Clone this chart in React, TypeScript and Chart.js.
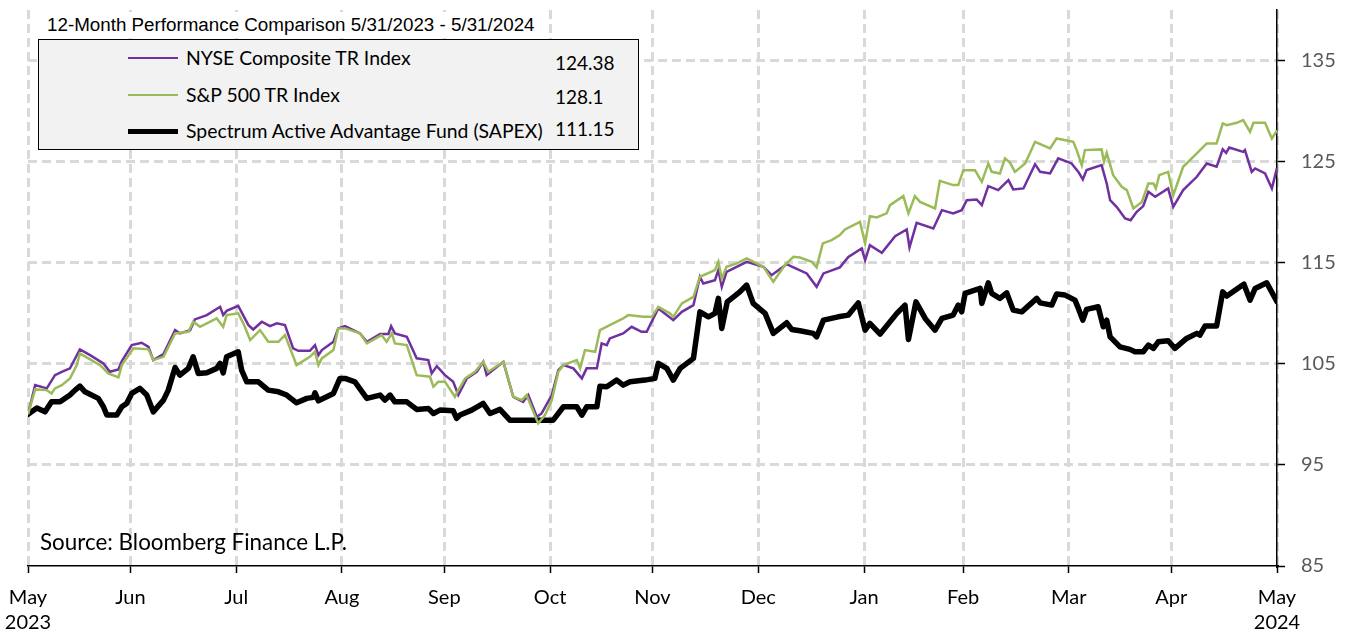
import React, { useEffect, useRef } from "react";
import { Chart, registerables } from "chart.js";

Chart.register(...registerables);

// x positions are days since 5/31/2023; ticks sit at month ends
const tickDays = [0, 30, 61, 92, 122, 153, 183, 214, 245, 274, 305, 335, 366];
const tickLabels: (string | string[])[] = [["May", "2023"], "Jun", "Jul", "Aug", "Sep", "Oct", "Nov", "Dec", "Jan", "Feb", "Mar", "Apr", ["May", "2024"]];
const yTicks = [85, 95, 105, 115, 125, 135];

const seriesNames = ["NYSE Composite TR Index", "S&P 500 TR Index", "Spectrum Active Advantage Fund (SAPEX)"];
const finalValues = ["124.38", "128.1", "111.15"];

const sapexDays = [0, 2.6, 5.0, 6.9, 9.4, 12.3, 13.8, 15.2, 16.7, 20.6, 22.1, 23.1, 26.0, 27.5, 28.9, 30.4, 32.8, 34.8, 36.7, 39.7, 41.1, 43.1, 44.5, 47.0, 48.4, 49.9, 52.4, 55.3, 56.3, 57.2, 58.2, 61.6, 62.6, 64.1, 67.5, 70.4, 73.4, 75.8, 78.7, 81.7, 83.6, 84.1, 85.1, 89.5, 91.4, 92.9, 95.8, 99.3, 103.2, 104.6, 106.1, 107.5, 111.0, 113.9, 117.3, 118.8, 120.7, 124.6, 125.6, 126.6, 130.0, 133.4, 135.4, 138.3, 141.2, 153.9, 156.9, 160.8, 162.3, 163.7, 166.7, 167.6, 169.6, 172.5, 174.4, 176.4, 180.8, 183.7, 184.7, 187.2, 189.1, 191.1, 195.0, 196.9, 199.4, 201.3, 202.3, 203.3, 204.9, 208.6, 210.6, 212.5, 216.0, 218.4, 222.3, 223.8, 226.2, 230.1, 231.1, 233.1, 237.4, 240.4, 243.3, 245.3, 246.7, 249.7, 254.6, 257.0, 258.0, 260.2, 262.9, 265.8, 267.8, 271.1, 272.6, 273.6, 274.6, 279.0, 279.5, 281.4, 282.4, 284.8, 286.8, 288.7, 291.2, 295.6, 296.6, 300.0, 301.4, 303.9, 306.8, 307.8, 309.1, 310.2, 313.6, 315.1, 316.1, 317.1, 320.0, 322.9, 324.4, 326.8, 328.3, 329.8, 331.2, 334.1, 336.1, 339.5, 342.5, 343.4, 344.9, 348.3, 350.1, 351.3, 355.2, 356.3, 358.1, 359.6, 363.0, 366];
const sapexValues = [100, 100.62, 100.25, 101.24, 101.24, 101.91, 102.40, 102.79, 102.23, 101.58, 100.75, 99.93, 99.93, 100.75, 101.08, 102.07, 102.57, 101.91, 100.25, 101.41, 102.40, 104.64, 103.88, 104.55, 105.69, 104.05, 104.11, 104.55, 105.04, 104.11, 105.69, 106.19, 104.38, 103.22, 103.22, 102.40, 102.23, 101.91, 101.14, 101.58, 101.68, 102.13, 101.34, 102.07, 103.56, 103.56, 103.22, 101.58, 101.91, 101.41, 101.91, 101.24, 101.24, 100.49, 100.59, 100.09, 100.42, 100.35, 99.60, 99.93, 100.42, 101.08, 100.09, 100.49, 99.43, 99.43, 100.75, 100.75, 99.93, 100.75, 100.75, 102.79, 102.73, 103.39, 102.89, 103.22, 103.39, 103.56, 105.04, 104.55, 103.39, 104.55, 105.54, 110.14, 109.65, 109.99, 111.47, 108.50, 111.13, 112.12, 112.79, 110.98, 109.99, 108.01, 109.06, 108.40, 108.27, 108.01, 107.67, 109.32, 109.65, 109.82, 111.03, 108.33, 109.00, 107.94, 109.99, 110.81, 107.41, 111.13, 109.49, 108.33, 109.49, 109.82, 110.81, 110.14, 111.96, 112.46, 110.98, 113.01, 111.96, 111.47, 112.02, 110.31, 110.14, 111.47, 111.03, 110.81, 111.90, 111.80, 111.30, 110.48, 109.32, 110.38, 110.64, 108.66, 109.32, 107.67, 106.68, 106.43, 106.19, 106.19, 106.85, 106.53, 107.18, 107.28, 106.53, 107.51, 108.01, 107.84, 108.73, 108.73, 112.12, 111.70, 112.62, 112.88, 111.30, 112.46, 113.01, 111.15];

const nyseDays = [0, 2.1, 5.5, 7.9, 9.9, 12.3, 13.3, 15.2, 18.2, 22.1, 24.0, 26.5, 27.5, 30.4, 33.3, 35.3, 36.7, 39.7, 43.1, 44.5, 47.5, 48.9, 52.4, 56.3, 57.2, 58.2, 61.6, 64.6, 66.0, 68.5, 70.9, 72.9, 75.3, 77.7, 79.2, 82.6, 84.1, 85.1, 86.1, 89.5, 90.9, 92.9, 97.3, 99.3, 103.2, 105.6, 106.4, 107.5, 111.0, 113.9, 117.3, 118.3, 119.8, 122.2, 124.6, 126.1, 128.6, 131.5, 133.4, 134.4, 139.3, 142.2, 145.1, 146.6, 149.1, 150.5, 153.5, 155.4, 156.9, 159.8, 162.3, 163.7, 166.7, 168.1, 169.6, 170.5, 174.4, 176.9, 179.8, 181.3, 184.7, 189.1, 191.6, 195.0, 196.9, 197.9, 201.3, 202.3, 203.3, 204.7, 210.6, 215.5, 217.9, 222.3, 224.3, 228.2, 231.1, 233.1, 237.9, 240.4, 244.3, 245.3, 246.7, 250.2, 254.1, 257.5, 258.3, 260.4, 265.3, 267.8, 271.1, 273.6, 275.1, 278.0, 279.5, 281.4, 284.3, 287.3, 288.7, 291.7, 295.1, 296.6, 299.5, 301.9, 305.8, 307.8, 309.1, 310.2, 314.6, 316.1, 317.1, 319.0, 321.5, 323.1, 324.9, 326.8, 328.3, 330.3, 334.1, 335.6, 338.5, 342.5, 345.4, 348.3, 350.1, 351.1, 352.0, 356.1, 356.6, 358.6, 359.6, 362.5, 364.5, 366];
const nyseValues = [100, 102.89, 102.57, 103.88, 104.21, 104.55, 105.20, 106.43, 105.86, 105.04, 104.21, 104.45, 105.27, 106.85, 107.08, 106.68, 105.37, 105.96, 108.33, 108.01, 108.33, 109.39, 109.82, 110.64, 109.82, 110.24, 110.74, 108.83, 108.40, 109.16, 108.73, 109.00, 108.83, 106.53, 106.29, 106.29, 106.85, 105.86, 106.36, 107.18, 108.50, 108.73, 108.01, 107.18, 107.94, 107.94, 108.73, 108.01, 107.67, 105.54, 105.37, 104.05, 104.77, 103.88, 103.22, 101.91, 103.56, 104.21, 105.20, 103.88, 105.20, 101.74, 101.24, 101.91, 99.76, 100.09, 101.91, 104.38, 104.87, 104.55, 103.56, 104.55, 104.55, 107.02, 106.85, 107.51, 108.01, 108.66, 108.17, 108.17, 110.48, 109.32, 110.14, 110.81, 113.61, 112.95, 113.28, 114.27, 112.62, 114.10, 115.09, 114.60, 113.77, 114.86, 114.54, 113.94, 112.62, 113.94, 114.54, 115.58, 116.42, 115.26, 116.74, 115.98, 117.63, 118.29, 116.51, 118.95, 118.39, 120.20, 119.88, 120.20, 121.19, 121.26, 120.70, 122.58, 122.18, 123.17, 122.25, 122.35, 124.75, 123.99, 123.83, 125.32, 124.82, 123.99, 123.24, 124.16, 124.65, 122.84, 121.19, 120.53, 119.38, 119.21, 120.04, 120.60, 122.01, 121.52, 122.35, 120.53, 122.18, 123.50, 124.82, 124.49, 126.21, 125.87, 126.40, 125.97, 126.14, 123.99, 124.33, 123.83, 122.35, 124.38];

const spxDays = [0, 2.1, 5.5, 6.9, 7.9, 9.9, 12.3, 14.3, 15.2, 18.2, 21.1, 22.1, 23.5, 26.5, 27.5, 30.9, 35.3, 36.7, 39.7, 43.1, 47.0, 48.4, 50.4, 55.3, 57.2, 58.2, 61.6, 63.1, 65.1, 68.0, 70.4, 73.4, 75.3, 78.7, 82.6, 84.1, 85.1, 86.1, 89.5, 90.9, 92.9, 97.3, 99.3, 103.6, 105.1, 106.6, 107.5, 111.0, 113.9, 117.8, 118.8, 120.2, 122.2, 125.1, 126.1, 128.1, 131.0, 133.4, 134.9, 139.3, 142.2, 144.7, 146.1, 149.5, 151.5, 153.5, 155.4, 156.9, 160.8, 161.8, 163.2, 166.2, 167.6, 171.5, 174.4, 175.9, 180.3, 182.8, 184.7, 188.1, 189.1, 191.6, 195.0, 196.9, 201.3, 202.3, 203.3, 204.7, 207.7, 210.6, 215.5, 218.4, 221.8, 224.3, 226.2, 229.7, 231.1, 232.9, 235.5, 237.9, 239.4, 243.8, 245.3, 246.7, 248.7, 251.6, 252.6, 256.5, 258.0, 259.9, 261.4, 265.8, 267.2, 271.1, 272.6, 274.1, 277.5, 279.5, 281.4, 282.4, 284.8, 286.3, 287.8, 289.2, 292.2, 295.1, 299.5, 301.4, 306.3, 307.3, 308.8, 309.7, 314.6, 315.3, 316.1, 318.0, 320.5, 322.0, 323.9, 326.4, 328.3, 329.8, 330.5, 331.5, 334.1, 335.6, 338.5, 342.5, 345.4, 348.3, 350.1, 351.3, 354.2, 356.1, 358.1, 359.1, 362.5, 364.5, 366];
const spxValues = [100, 102.47, 102.40, 102.07, 102.57, 102.89, 103.56, 104.87, 106.03, 105.44, 104.87, 104.55, 104.05, 103.66, 104.87, 106.53, 106.43, 105.37, 105.69, 108.01, 108.17, 109.16, 108.66, 109.49, 108.66, 109.82, 109.99, 109.00, 107.35, 108.33, 107.18, 107.18, 107.84, 104.87, 105.69, 106.19, 104.87, 105.54, 106.36, 108.50, 108.50, 108.01, 107.02, 107.84, 107.18, 108.01, 107.02, 106.85, 103.88, 103.72, 102.73, 103.22, 103.22, 101.74, 102.40, 103.56, 104.21, 105.20, 104.21, 105.20, 101.74, 101.41, 101.91, 99.11, 99.93, 101.41, 104.21, 104.87, 105.37, 104.55, 106.36, 106.19, 108.33, 109.00, 109.49, 109.82, 109.65, 109.65, 110.64, 109.99, 109.65, 110.98, 111.63, 113.61, 114.27, 115.09, 113.45, 114.60, 114.93, 115.43, 114.60, 113.11, 114.76, 115.58, 115.52, 115.09, 114.54, 116.91, 117.24, 117.73, 118.29, 119.05, 116.91, 119.61, 119.48, 119.88, 120.70, 121.59, 119.88, 121.59, 121.02, 120.37, 123.10, 122.68, 122.68, 124.16, 124.16, 123.00, 124.82, 123.99, 123.83, 125.32, 124.88, 123.99, 124.82, 126.96, 126.31, 127.29, 126.96, 126.14, 124.65, 126.14, 126.21, 124.98, 125.87, 123.66, 122.51, 122.18, 120.37, 121.02, 122.84, 122.84, 122.35, 123.66, 123.99, 121.69, 124.49, 125.81, 126.80, 126.80, 128.78, 128.61, 128.84, 129.10, 127.95, 128.84, 128.84, 127.29, 128.10];

const colors = { nyse: "#7030a0", spx: "#9bbb59", sapex: "#000000", grid: "#d9d9d9" };

const toPoints = (days: number[], vals: number[]) => days.map((d, i) => ({ x: d, y: vals[i] }));

const zeroPadding = (scale: any) => {
  scale.paddingLeft = 0;
  scale.paddingRight = 0;
  scale.paddingTop = 0;
  scale.paddingBottom = 0;
};

export default function App() {
  const canvasRef = useRef<HTMLCanvasElement | null>(null);

  useEffect(() => {
    if (!canvasRef.current) return;
    const chart = new Chart(canvasRef.current, {
      type: "line",
      data: {
        datasets: [
          { label: seriesNames[1], data: toPoints(spxDays, spxValues), borderColor: colors.spx, borderWidth: 2.5, pointRadius: 0, tension: 0 },
          { label: seriesNames[0], data: toPoints(nyseDays, nyseValues), borderColor: colors.nyse, borderWidth: 2.5, pointRadius: 0, tension: 0 },
          { label: seriesNames[2], data: toPoints(sapexDays, sapexValues), borderColor: colors.sapex, borderWidth: 5.5, pointRadius: 0, tension: 0, borderJoinStyle: "round", borderCapStyle: "round" },
        ],
      },
      options: {
        responsive: false,
        animation: false,
        events: [],
        layout: { padding: { left: 28, top: 10, right: 0, bottom: 0 } },
        plugins: { legend: { display: false }, tooltip: { enabled: false }, title: { display: false } },
        scales: {
          x: {
            type: "linear",
            min: 0,
            max: 366,
            afterBuildTicks: (scale: any) => { scale.ticks = tickDays.map((v) => ({ value: v })); },
            afterFit: (scale: any) => { scale.height = 67; zeroPadding(scale); },
            ticks: {
              autoSkip: false,
              maxRotation: 0,
              color: "#000",
              padding: 12,
              font: { family: "Lato", size: 20, lineHeight: 1.25 },
              callback: (_v: any, i: number) => tickLabels[i],
            },
            grid: { color: colors.grid, lineWidth: 3, tickColor: "#000", tickWidth: 1.5, tickLength: 7, tickBorderDash: [] },
            border: { display: true, color: "#000", width: 1.5, dash: [9, 5] },
          },
          y: {
            type: "linear",
            position: "right",
            min: 85,
            max: 140,
            afterBuildTicks: (scale: any) => { scale.ticks = yTicks.map((v) => ({ value: v })); },
            afterFit: (scale: any) => { scale.width = 76; zeroPadding(scale); },
            ticks: { color: "#595959", padding: 16, font: { family: "Lato", size: 20 } },
            grid: {
              color: (ctx: any) => (ctx.tick && ctx.tick.value === 85 ? "rgba(0,0,0,0)" : colors.grid),
              lineWidth: 3,
              tickColor: "#000",
              tickWidth: 1.5,
              tickLength: 8,
              tickBorderDash: [],
            },
            border: { display: true, color: "#000", width: 1.5, dash: [9, 5] },
          },
        },
      },
    } as any);
    return () => chart.destroy();
  }, []);

  const legendFont = "Lato, 'Noto Sans', sans-serif";
  const abs = (s: React.CSSProperties): React.CSSProperties => ({ position: "absolute", ...s });
  const rowsY = [58, 95, 131];
  const valY = [63, 96.5, 128.5];
  const sampleColors = [colors.nyse, colors.spx, colors.sapex];
  const sampleH = [2.5, 2.5, 5];

  return (
    <div style={{ position: "fixed", left: 0, top: 0, width: 1353, height: 633, background: "#fff", overflow: "hidden" }}>
      <canvas ref={canvasRef} width={1353} height={633} style={{ position: "absolute", left: 0, top: 0, width: 1353, height: 633 }} />
      <div style={abs({ left: 41, top: 12, height: 25, lineHeight: "25px", padding: "0 6px", background: "#fff", fontFamily: "'Liberation Sans', Arial, sans-serif", fontSize: 18.8, color: "#000", whiteSpace: "nowrap" })}>
        12-Month Performance Comparison 5/31/2023 - 5/31/2024
      </div>
      <div style={abs({ left: 38, top: 39, width: 601, height: 111, boxSizing: "border-box", background: "#f2f2f2", border: "1px solid #000" })} />
      {seriesNames.map((name, i) => (
        <React.Fragment key={name}>
          <div style={abs({ left: 128, width: 50, top: rowsY[i] - sampleH[i] / 2, height: sampleH[i], background: sampleColors[i] })} />
          <div style={abs({ left: 186, top: rowsY[i] - 12, height: 24, lineHeight: "24px", fontFamily: legendFont, fontSize: 19.4, color: "#000", whiteSpace: "nowrap" })}>{name}</div>
          <div style={abs({ left: 555, top: valY[i] - 12, height: 24, lineHeight: "24px", fontFamily: legendFont, fontSize: 19, color: "#000", whiteSpace: "nowrap" })}>{finalValues[i]}</div>
        </React.Fragment>
      ))}
      <div style={abs({ left: 40, top: 529, height: 26, lineHeight: "26px", fontFamily: legendFont, fontSize: 22.4, color: "#000", whiteSpace: "nowrap" })}>
        Source: Bloomberg Finance L.P.
      </div>
    </div>
  );
}
